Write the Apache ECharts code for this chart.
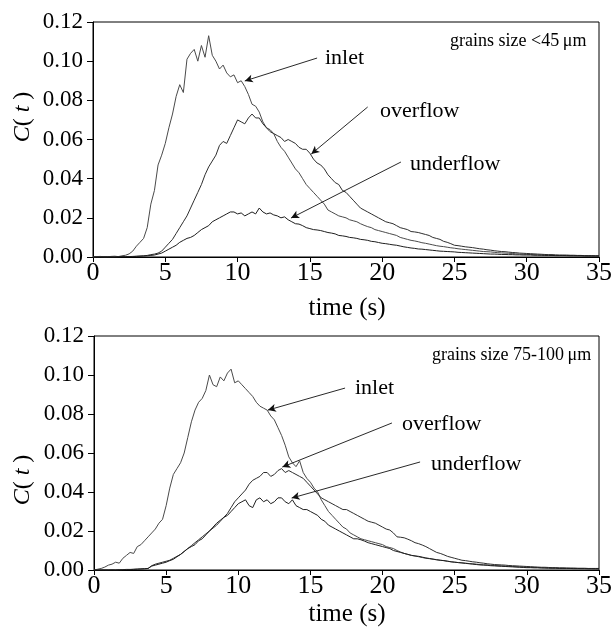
<!DOCTYPE html>
<html>
<head>
<meta charset="utf-8">
<script src="https://cdn.jsdelivr.net/npm/echarts@6/dist/echarts.min.js"></script>
<style>
html,body{margin:0;padding:0;background:#fff;}
#chart{width:615px;height:630px;}
</style>
</head>
<body>
<div id="chart"></div>
<script>
// time axis (s), step 0.25 from 0 to 35
const times = [];
for (let i = 0; i <= 140; i++) times.push(i * 0.25);

const xTicks = [0, 5, 10, 15, 20, 25, 30, 35];
const yTicks = [0.00, 0.02, 0.04, 0.06, 0.08, 0.10, 0.12];

// ---- Top panel: grains size <45 um ----
const topInlet = [
  0, 0.0002, 0.0003, 0.0001, 0.0001, 0.0003, 0.0004, 0.0002, 0.0006, 0.0009, 0.0016, 0.003, 0.0055, 0.0075, 0.0095, 0.015, 0.027, 0.034, 0.047, 0.052,
  0.058, 0.066, 0.073, 0.082, 0.088, 0.084, 0.101, 0.104, 0.106, 0.100, 0.108, 0.102, 0.113, 0.103, 0.100, 0.096, 0.098, 0.094, 0.092, 0.093,
  0.089, 0.090, 0.087, 0.083, 0.078, 0.077, 0.074, 0.069, 0.066, 0.065, 0.063, 0.059, 0.056, 0.054, 0.051, 0.048, 0.045, 0.043, 0.040, 0.037,
  0.035, 0.033, 0.031, 0.029, 0.027, 0.024, 0.023, 0.022, 0.021, 0.0205, 0.020, 0.019, 0.0185, 0.018, 0.017, 0.0162, 0.0155, 0.015, 0.014, 0.0135,
  0.013, 0.0125, 0.012, 0.0115, 0.011, 0.010, 0.0095, 0.009, 0.0085, 0.0082, 0.0078, 0.0073, 0.007, 0.0066, 0.0062, 0.0058, 0.0055, 0.0053, 0.005, 0.0047,
  0.0045, 0.0042, 0.004, 0.0038, 0.0036, 0.0034, 0.0032, 0.003, 0.0028, 0.0027, 0.0026, 0.0024, 0.0022, 0.0021, 0.002, 0.0019, 0.0018, 0.0016, 0.0015, 0.0014,
  0.0013, 0.0013, 0.0012, 0.0011, 0.001, 0.001, 0.001, 0.0009, 0.0008, 0.0008, 0.0008, 0.0007, 0.0007, 0.0007, 0.0006, 0.0006, 0.0006, 0.0005, 0.0005, 0.0005,
  0.0005
];
const topOverflow = [
  0, 0, 0, 0.0001, 0.0001, 0, 0, 0.0001, 0.0002, 0.0002, 0.0002, 0.0003, 0.0004, 0.0005, 0.0006, 0.0008, 0.0012, 0.0015, 0.002, 0.003,
  0.005, 0.007, 0.009, 0.012, 0.015, 0.018, 0.021, 0.025, 0.029, 0.033, 0.037, 0.042, 0.046, 0.049, 0.052, 0.057, 0.059, 0.058, 0.062, 0.066,
  0.070, 0.069, 0.068, 0.071, 0.073, 0.071, 0.071, 0.068, 0.066, 0.064, 0.063, 0.062, 0.061, 0.059, 0.060, 0.059, 0.058, 0.056, 0.055, 0.055,
  0.053, 0.050, 0.048, 0.047, 0.045, 0.042, 0.040, 0.038, 0.037, 0.034, 0.033, 0.031, 0.029, 0.027, 0.025, 0.024, 0.023, 0.022, 0.021, 0.020,
  0.019, 0.018, 0.0175, 0.017, 0.016, 0.015, 0.0145, 0.014, 0.013, 0.0128, 0.0125, 0.012, 0.0115, 0.011, 0.010, 0.0095, 0.009, 0.008, 0.0075, 0.0068,
  0.006, 0.0058, 0.0055, 0.0052, 0.005, 0.0048, 0.0045, 0.0042, 0.004, 0.0037, 0.0035, 0.0032, 0.003, 0.0028, 0.0027, 0.0025, 0.0023, 0.0022, 0.002, 0.0019,
  0.0018, 0.0017, 0.0016, 0.0015, 0.0014, 0.0013, 0.0012, 0.0012, 0.0011, 0.001, 0.001, 0.001, 0.0009, 0.0009, 0.0008, 0.0008, 0.0007, 0.0007, 0.0007, 0.0006,
  0.0006
];
const topUnderflow = [
  0, 0, 0, 0, 0, 0, 0, 0.0001, 0.0001, 0.0001, 0.0002, 0.0002, 0.0003, 0.0004, 0.0005, 0.0006, 0.0008, 0.001, 0.0015, 0.002,
  0.003, 0.004, 0.005, 0.006, 0.0075, 0.0085, 0.0095, 0.010, 0.011, 0.0125, 0.014, 0.015, 0.016, 0.018, 0.019, 0.020, 0.021, 0.022, 0.023, 0.023,
  0.022, 0.0225, 0.021, 0.022, 0.023, 0.022, 0.025, 0.023, 0.022, 0.0225, 0.0215, 0.021, 0.020, 0.0205, 0.019, 0.018, 0.017, 0.0168, 0.016, 0.015,
  0.0145, 0.014, 0.0138, 0.0135, 0.013, 0.0125, 0.0122, 0.0118, 0.011, 0.0108, 0.0105, 0.010, 0.0098, 0.0095, 0.009, 0.0088, 0.0085, 0.008, 0.0078, 0.0074,
  0.007, 0.0068, 0.0065, 0.0062, 0.006, 0.0056, 0.0052, 0.0049, 0.0046, 0.0044, 0.0041, 0.004, 0.0038, 0.0036, 0.0034, 0.0032, 0.003, 0.0029, 0.0028, 0.0027,
  0.0026, 0.0024, 0.0023, 0.0022, 0.0021, 0.002, 0.0019, 0.0018, 0.0017, 0.0016, 0.0015, 0.0015, 0.0014, 0.0013, 0.0013, 0.0012, 0.0012, 0.0011, 0.0011, 0.001,
  0.001, 0.001, 0.0009, 0.0009, 0.0009, 0.0008, 0.0008, 0.0008, 0.0007, 0.0007, 0.0007, 0.0007, 0.0006, 0.0006, 0.0006, 0.0006, 0.0005, 0.0005, 0.0005, 0.0005,
  0.0005
];

// ---- Bottom panel: grains size 75-100 um ----
const botInlet = [
  0, 0.0004, 0.0008, 0.0015, 0.0025, 0.003, 0.004, 0.0035, 0.006, 0.0075, 0.009, 0.0085, 0.012, 0.013, 0.015, 0.017, 0.019, 0.021, 0.024, 0.026,
  0.033, 0.042, 0.049, 0.052, 0.055, 0.060, 0.068, 0.076, 0.082, 0.086, 0.088, 0.092, 0.100, 0.095, 0.094, 0.099, 0.097, 0.101, 0.103, 0.096,
  0.097, 0.095, 0.093, 0.091, 0.089, 0.086, 0.084, 0.083, 0.082, 0.079, 0.077, 0.073, 0.069, 0.064, 0.058, 0.055, 0.053, 0.056, 0.050, 0.047,
  0.045, 0.042, 0.040, 0.036, 0.033, 0.030, 0.028, 0.026, 0.024, 0.022, 0.021, 0.019, 0.018, 0.017, 0.016, 0.0155, 0.015, 0.0145, 0.014, 0.0135,
  0.013, 0.012, 0.0115, 0.011, 0.010, 0.0092, 0.0085, 0.008, 0.0075, 0.0072, 0.0068, 0.0064, 0.006, 0.0058, 0.0055, 0.0052, 0.005, 0.0048, 0.0045, 0.0042,
  0.004, 0.0038, 0.0037, 0.0035, 0.0033, 0.0032, 0.003, 0.0028, 0.0027, 0.0026, 0.0024, 0.0023, 0.0022, 0.0021, 0.002, 0.0019, 0.0018, 0.0017, 0.0016, 0.0015,
  0.0014, 0.0014, 0.0013, 0.0013, 0.0012, 0.0011, 0.0011, 0.001, 0.001, 0.0009, 0.0009, 0.0009, 0.0008, 0.0008, 0.0008, 0.0007, 0.0007, 0.0007, 0.0007, 0.0006,
  0.0006
];
const botOverflow = [
  0, 0, 0, 0, 0, 0.0001, 0, 0.0001, 0.0002, 0.0003, 0.0003, 0.0004, 0.0005, 0.0006, 0.0007, 0.0008, 0.0022, 0.003, 0.0035, 0.004,
  0.0045, 0.005, 0.006, 0.007, 0.008, 0.0095, 0.011, 0.0125, 0.014, 0.0155, 0.017, 0.0185, 0.020, 0.0215, 0.023, 0.025, 0.027, 0.029, 0.032, 0.035,
  0.037, 0.039, 0.041, 0.044, 0.046, 0.047, 0.048, 0.050, 0.050, 0.048, 0.049, 0.051, 0.052, 0.050, 0.051, 0.050, 0.049, 0.048, 0.047, 0.045,
  0.043, 0.041, 0.039, 0.037, 0.036, 0.035, 0.034, 0.033, 0.032, 0.031, 0.031, 0.030, 0.029, 0.028, 0.027, 0.026, 0.025, 0.0245, 0.024, 0.023,
  0.022, 0.021, 0.0205, 0.019, 0.017, 0.0168, 0.0165, 0.0158, 0.015, 0.014, 0.0135, 0.0128, 0.012, 0.011, 0.010, 0.009, 0.0085, 0.0078, 0.007, 0.0065,
  0.006, 0.0055, 0.005, 0.0048, 0.0045, 0.0042, 0.004, 0.0037, 0.0035, 0.0032, 0.003, 0.0028, 0.0027, 0.0026, 0.0025, 0.0023, 0.0022, 0.0021, 0.002, 0.0019,
  0.0018, 0.0017, 0.0016, 0.0015, 0.0014, 0.0014, 0.0013, 0.0012, 0.0012, 0.0011, 0.0011, 0.001, 0.001, 0.001, 0.0009, 0.0009, 0.0009, 0.0008, 0.0008, 0.0008,
  0.0008
];
const botUnderflow = [
  0, 0, 0, 0, 0, 0, 0, 0.0001, 0.0001, 0.0002, 0.0002, 0.0003, 0.0004, 0.0005, 0.0006, 0.0008, 0.002, 0.0025, 0.003, 0.0035,
  0.004, 0.0048, 0.0055, 0.0068, 0.008, 0.0095, 0.011, 0.012, 0.013, 0.015, 0.016, 0.018, 0.020, 0.022, 0.024, 0.0255, 0.027, 0.028, 0.030, 0.032,
  0.034, 0.035, 0.036, 0.033, 0.032, 0.036, 0.037, 0.035, 0.036, 0.034, 0.035, 0.037, 0.037, 0.035, 0.034, 0.036, 0.033, 0.032, 0.031, 0.031,
  0.030, 0.029, 0.028, 0.026, 0.025, 0.023, 0.022, 0.021, 0.020, 0.019, 0.018, 0.017, 0.016, 0.016, 0.0155, 0.0148, 0.014, 0.0135, 0.013, 0.0125,
  0.012, 0.0115, 0.011, 0.010, 0.0095, 0.009, 0.0085, 0.008, 0.0075, 0.0072, 0.007, 0.0066, 0.0062, 0.0059, 0.0056, 0.0053, 0.005, 0.0048, 0.0045, 0.0042,
  0.004, 0.0038, 0.0036, 0.0034, 0.0032, 0.003, 0.0028, 0.0026, 0.0025, 0.0024, 0.0022, 0.0021, 0.002, 0.0019, 0.0018, 0.0017, 0.0016, 0.0015, 0.0014, 0.0013,
  0.0012, 0.0012, 0.0011, 0.0011, 0.001, 0.001, 0.0009, 0.0009, 0.0009, 0.0008, 0.0008, 0.0008, 0.0008, 0.0007, 0.0007, 0.0007, 0.0007, 0.0006, 0.0006, 0.0006,
  0.0006
];

const panelTitles = ['grains size <45\u2009\u03bcm', 'grains size 75-100\u2009\u03bcm'];
const seriesNames = ['inlet', 'overflow', 'underflow'];
const xName = 'time (s)';

// annotation arrows in data units: [from (label end), to (curve)]
const arrowsTop = [
  [[15.5, 0.1016], [10.5, 0.0899]],
  [[19.0, 0.0766], [15.1, 0.0526]],
  [[21.3, 0.0485], [13.7, 0.0199]]
];
const arrowsBot = [
  [[17.4, 0.0933], [12.05, 0.0820]],
  [[20.65, 0.0754], [13.05, 0.0528]],
  [[22.6, 0.0554], [13.7, 0.0369]]
];

const FONT = '"Liberation Serif","Times New Roman",serif';
const chart = echarts.init(document.getElementById('chart'), null, {renderer: 'canvas'});

function pair(vals) { return times.map((t, i) => [t, vals[i]]); }

function makeXAxis(gi) {
  return {
    type: 'value', gridIndex: gi, min: 0, max: 35, interval: 5,
    axisLine: {show: true, onZero: false, lineStyle: {color: '#000', width: 1}},
    axisTick: {show: true, inside: false, length: 5, lineStyle: {color: '#000'}},
    splitLine: {show: false},
    axisLabel: {show: true, color: '#000', fontFamily: FONT, fontSize: 26, margin: 3,
      alignMaxLabel: 'center', alignMinLabel: 'center', hideOverlap: false,
      formatter: v => xTicks.indexOf(v) >= 0 ? String(v) : ''}
  };
}
function makeYAxis(gi) {
  return {
    type: 'value', gridIndex: gi, min: 0, max: 0.12, interval: 0.02,
    axisLine: {show: true, onZero: false, lineStyle: {color: '#000', width: 1}},
    axisTick: {show: true, inside: false, length: 6, lineStyle: {color: '#000'}},
    splitLine: {show: false},
    axisLabel: {show: true, color: '#000', fontFamily: FONT, fontSize: 23, margin: 10,
      formatter: v => { const k = yTicks.findIndex(t => Math.abs(t - v) < 1e-9); return k >= 0 ? yTicks[k].toFixed(2) : ''; }}
  };
}

const lineColors = ['#4a4a4a', '#2e2e2e', '#1e1e1e'];

function makeSeries(gi, vals, idx, arrows) {
  return {
    type: 'line', name: seriesNames[idx], xAxisIndex: gi, yAxisIndex: gi,
    data: pair(vals), showSymbol: false, symbol: 'none', smooth: false,
    lineStyle: {color: lineColors[idx], width: 1},
    animation: false, silent: true,
    markLine: {
      silent: true, animation: false,
      symbol: ['none', 'arrow'], symbolSize: [6, 8],
      label: {show: false},
      lineStyle: {color: '#111', width: 0.9, type: 'solid'},
      emphasis: {disabled: true},
      data: [[{coord: arrows[idx][0]}, {coord: arrows[idx][1]}]]
    }
  };
}

function txt(x, y, text, size, align) {
  return {type: 'text', x: x, y: y, silent: true,
    style: {text: text, font: size + 'px ' + FONT, fill: '#000',
      align: align || 'left', verticalAlign: 'middle',
      textAlign: align || 'left', textVerticalAlign: 'middle'}};
}
function yName(x, y) {
  return {type: 'text', x: x, y: y, rotation: Math.PI / 2, silent: true,
    style: {text: '{i|C}( {i|t} )', font: '24px ' + FONT, fill: '#000',
      align: 'center', verticalAlign: 'middle', textAlign: 'center', textVerticalAlign: 'middle',
      rich: {i: {fontStyle: 'italic', fontFamily: FONT, fontSize: 24}}}};
}

chart.setOption({
  backgroundColor: '#fff',
  animation: false,
  grid: [
    {left: 93, top: 22, width: 520, height: 235, show: true, borderColor: '#000', borderWidth: 1, backgroundColor: 'transparent'},
    {left: 94, top: 336, width: 519, height: 234, show: true, borderColor: '#000', borderWidth: 1, backgroundColor: 'transparent'}
  ],
  xAxis: [makeXAxis(0), makeXAxis(1)],
  yAxis: [makeYAxis(0), makeYAxis(1)],
  series: [
    makeSeries(0, topInlet, 0, arrowsTop),
    makeSeries(0, topOverflow, 1, arrowsTop),
    makeSeries(0, topUnderflow, 2, arrowsTop),
    makeSeries(1, botInlet, 0, arrowsBot),
    makeSeries(1, botOverflow, 1, arrowsBot),
    makeSeries(1, botUnderflow, 2, arrowsBot)
  ],
  graphic: [
    txt(450, 41, panelTitles[0], 18),
    txt(325, 58, seriesNames[0], 22),
    txt(380, 111, seriesNames[1], 22),
    txt(410, 164, seriesNames[2], 22),
    txt(347, 308, xName, 25, 'center'),
    yName(23, 117),
    txt(432, 355, panelTitles[1], 18),
    txt(355, 388, seriesNames[0], 22),
    txt(402, 424, seriesNames[1], 22),
    txt(431, 464, seriesNames[2], 22),
    txt(347, 614, xName, 25, 'center'),
    yName(23, 480)
  ]
});
</script>
</body>
</html>
